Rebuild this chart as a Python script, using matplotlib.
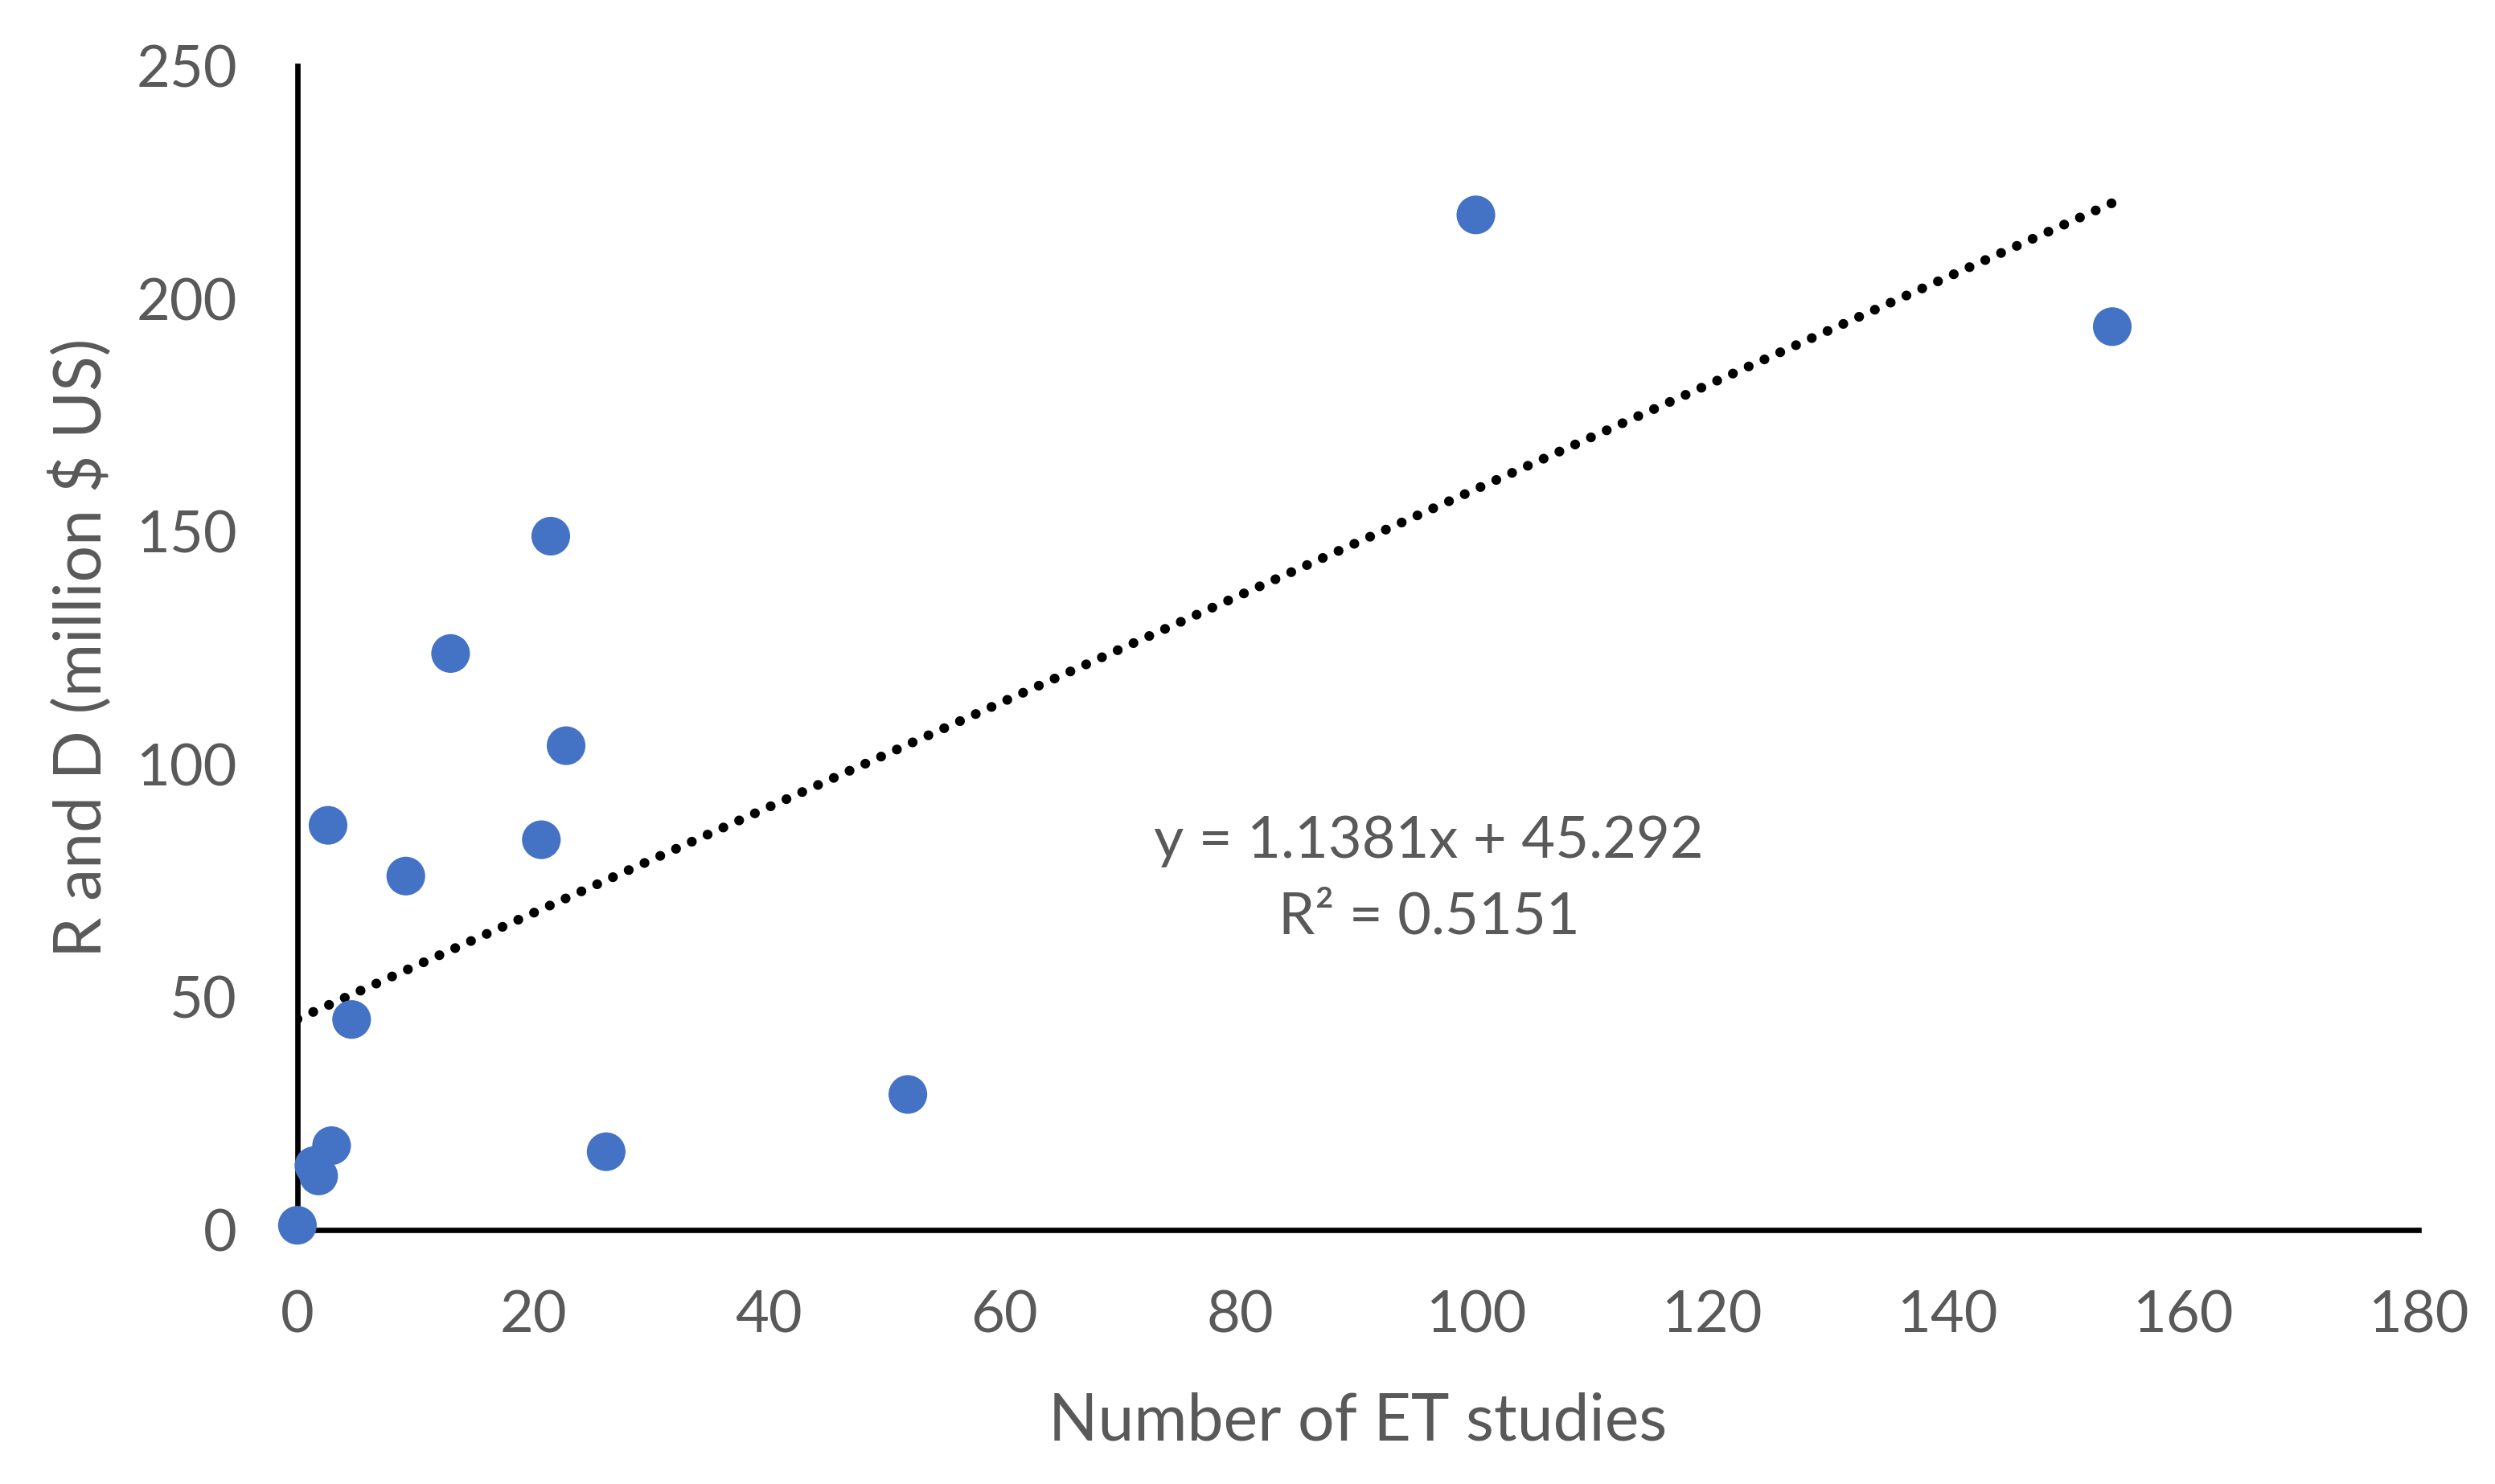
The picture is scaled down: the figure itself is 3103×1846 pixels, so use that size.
import matplotlib
matplotlib.use("Agg")
import matplotlib.pyplot as plt
import numpy as np

# values
et_studies = [0.0, 1.8, 1.4, 2.9, 2.6, 4.6, 9.2, 13.0, 20.7, 21.5, 22.8, 26.2, 51.8, 100.0, 154.0]
rnd_million = [1.0, 11.6, 13.8, 18.1, 86.9, 45.2, 76.0, 123.8, 83.8, 149.0, 104.0, 16.8, 29.1, 218.0, 194.0]

slope = 1.1381
intercept = 45.292
r_squared = 0.5151

x_ticks = [0, 20, 40, 60, 80, 100, 120, 140, 160, 180]
y_ticks = [0, 50, 100, 150, 200, 250]

GRAY = "#595959"
BLUE = "#4472C4"

plt.rcParams["font.family"] = ["Lato", "DejaVu Sans"]

fig = plt.figure(figsize=(15.515, 9.23), dpi=200)
ax = fig.add_axes([0.1192, 0.1712, 0.8502, 0.7844])

ax.scatter(et_studies, rnd_million, s=300, color=BLUE, edgecolors="none", zorder=3, clip_on=False)

# linear trendline over the data range
xs = np.array([min(et_studies), max(et_studies)])
ax.plot(xs, slope * xs + intercept, color="black", linewidth=4.4,
        linestyle=(0, (0.01, 1.75)), dash_capstyle="round", zorder=2)

ax.text(96, 75.3, f"y = {slope}x + {intercept}\nR² = {r_squared}", ha="center", va="center",
        multialignment="center", fontsize=26, color=GRAY, linespacing=1.55)

ax.set_xlim(0, 180)
ax.set_ylim(0, 250)
ax.set_xticks(x_ticks)
ax.set_yticks(y_ticks)
ax.tick_params(length=0, labelsize=26, labelcolor=GRAY, pad=27)

for side in ["top", "right"]:
    ax.spines[side].set_visible(False)
for side in ["left", "bottom"]:
    ax.spines[side].set_linewidth(2.4)
    ax.spines[side].set_color("black")

ax.set_xlabel("Number of ET studies", fontsize=29, color=GRAY, labelpad=22)
ax.set_ylabel("R and D (million $ US)", fontsize=29, color=GRAY, labelpad=11)

plt.savefig("out.png", dpi=200)
plt.close()
